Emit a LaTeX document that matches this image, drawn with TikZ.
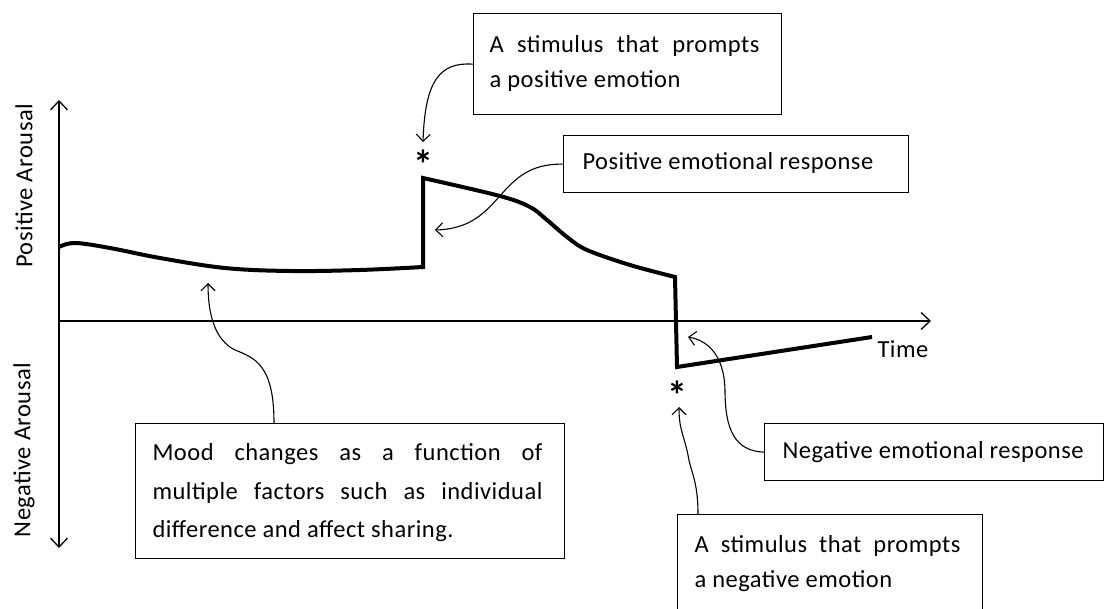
\documentclass[tikz,border=0pt]{standalone}
\usepackage{fontspec}
\setmainfont{Carlito}[LetterSpace=2]
\usetikzlibrary{arrows.meta,calc}
\begin{document}
\begin{tikzpicture}[x=1pt,y=-1pt,
  axis/.style={line width=1.3pt,-{Straight Barb[length=9pt,width=17pt,line width=1.3pt]}},
  curvecol/.style={line width=4pt,line join=miter,line cap=butt},
  callout/.style={line width=1.1pt,-{Straight Barb[length=7pt,width=14pt,line width=1.1pt]}},
  labelbox/.style={draw,line width=1.3pt,inner sep=0pt,anchor=north west},
  txt/.style={font=\fontsize{24.5}{35}\selectfont},
  starmark/.style={font=\fontsize{40}{40}\selectfont\bfseries,inner sep=0pt}
]
\useasboundingbox (0,0) rectangle (1105,609);

% axes
\coordinate (orig) at (59,321);
\coordinate (ytop) at (59,100);
\coordinate (ybot) at (59,548);
\coordinate (xend) at (931,321);
\draw[axis] (orig) -- (ytop);
\draw[axis] (orig) -- (ybot);
\draw[axis] (orig) -- (xend);

\node[txt,rotate=90] (posar) at (24,186) {Positive Arousal};
\node[txt,rotate=90] (negar) at (24,450) {Negative Arousal};
\node[txt,anchor=west] (time) at (874,349) {Time};

% mood curve
\draw[curvecol] plot[smooth,tension=0.6] coordinates {(59,247) (75,243) (110,248) (160,258) (225,268) (290,271) (360,270) (423,267)}
  -- (423,178)
  -- plot[smooth,tension=0.55] coordinates {(423,178) (500,196) (530,207) (547,220) (567,237) (587,250) (630,265) (675,277)}
  -- (677,367) -- (872,337);

% stimulus markers
\node[starmark] (starP) at (423,164) {*};
\node[starmark] (starN) at (677,395) {*};

% label boxes
\node[labelbox,minimum width=308pt,minimum height=101pt] (b1) at (473,13) {};
\node[txt,anchor=west,align=left] at (486,63) {\makebox[270pt][s]{A stimulus that prompts}\\a positive emotion};

\node[labelbox,minimum width=345pt,minimum height=57pt] (b2) at (563,135) {};
\node[txt,anchor=west] at (579,163) {Positive emotional response};

\node[labelbox,minimum width=429pt,minimum height=135pt] (b3) at (135,423) {};
\node[txt,anchor=west,text width=390pt,align=justify,font=\fontsize{24.5}{38.5}\selectfont] at (149,493) {Mood changes as a function of\linebreak multiple factors such as individual\linebreak difference and affect sharing.};

\node[labelbox,minimum width=339pt,minimum height=57pt] (b4) at (764,423) {};
\node[txt,anchor=west] at (779,452) {Negative emotional response};

\node[labelbox,minimum width=305pt,minimum height=110pt] (b5) at (677,514) {};
\node[txt,anchor=west,align=left] at (691,564) {\makebox[266pt][s]{A stimulus that prompts}\\a negative emotion};

% callout connectors
\coordinate (t1) at (423,142);
\coordinate (t2) at (435,230);
\coordinate (t3) at (208,283);
\coordinate (t4) at (688,337);
\coordinate (t5) at (679,407);
\coordinate (s3) at ($(b3.north west)+(139,0)$);
\coordinate (s5) at ($(b5.north west)+(21,0)$);

\draw[callout] (b1.west) .. controls (440,62) and (425,80) .. (t1);
\draw[callout] (b2.west) .. controls (495,163) and (505,228) .. (t2);
\draw[callout] (s3) .. controls (274,365) and (255,358) .. (235,350) .. controls (215,340) and (208,315) .. (t3);
\draw[callout] (b4.west) .. controls (735,451) and (725,430) .. (725,390) .. controls (724,352) and (705,340) .. (t4);
\draw[callout] (s5) .. controls (698,480) and (690,470) .. (688,455) .. controls (684,435) and (679,430) .. (t5);
\end{tikzpicture}
\end{document}
